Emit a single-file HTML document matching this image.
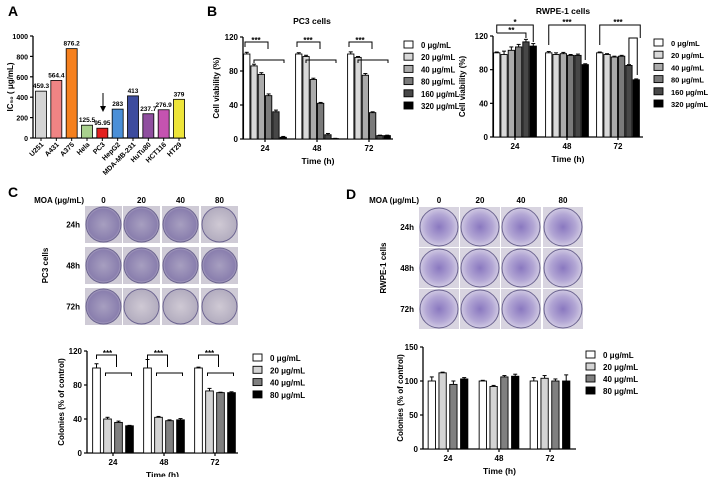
<!DOCTYPE html>
<html><head><meta charset="utf-8"><style>
body{margin:0;background:#fff}
svg{display:block;font-family:"Liberation Sans",Arial,sans-serif;font-weight:bold}
</style></head><body>
<svg id="fig" width="708" height="477" viewBox="0 0 708 477">
<defs>
<radialGradient id="pc3plate" cx="50%" cy="50%" r="55%"><stop offset="0" stop-color="#a79fc0"/><stop offset="0.8" stop-color="#8a7fae"/><stop offset="1" stop-color="#c8c3d2"/></radialGradient>
<radialGradient id="pc3light" cx="50%" cy="50%" r="55%"><stop offset="0" stop-color="#cfc9d4"/><stop offset="0.85" stop-color="#b4aec0"/><stop offset="1" stop-color="#d8d4dc"/></radialGradient>
<radialGradient id="rwplate" cx="50%" cy="50%" r="55%"><stop offset="0" stop-color="#8a78c0"/><stop offset="0.6" stop-color="#b2a6d4"/><stop offset="0.9" stop-color="#cfc8e2"/><stop offset="1" stop-color="#8f80bb"/></radialGradient>
</defs>
<g id="root"></g>
</svg>
<script>
// ---------- data ----------
const icCells = ["U251","A431","A375","Hela","PC3","HepG2","MDA-MB-231","HuTu80","HCT116","HT29"];
const icValues = [459.3,564.4,876.2,125.5,95.95,283,413,237.7,276.9,379];
const icLabels = ["459.3","564.4","876.2","125.5","95.95","283","413","237.7","276.9","379"];
const icColors = ["#d4d4d4","#f08484","#f5801e","#a9d18e","#e3201e","#4a8fd8","#3d4c9e","#8f4f9f","#c553b0","#eee53a"];
const icTicks = [0,200,400,600,800,1000];

const timeCats = ["24","48","72"];
const dose6 = ["0 μg/mL","20 μg/mL","40 μg/mL","80 μg/mL","160 μg/mL","320 μg/mL"];
const dose4 = ["0 μg/mL","20 μg/mL","40 μg/mL","80 μg/mL"];
const pc3Vals = [[100,86,76,51,32,2],[100,97,70,42,5,0.5],[100,96,75,31,4,4]];
const pc3Errs = [[2,2,2,2,2,1],[1.5,1.5,1.5,1,1.5,0.3],[2.5,1,2,1,0.5,0.5]];
const rwVals = [[100,98,103,107,113,108],[100,98,99,97,97,86],[100,98,95,96,85,68]];
const rwErrs = [[1,4,4,3,3,3],[1.5,2,1.5,1,1.5,1],[1,1,1,1,1,1]];
const viaTicks = [0,40,80,120];
const pcColVals = [[100,40,36,32],[100,42,38,39],[100,73,71,71]];
const pcColErrs = [[5,2,1.5,0.5],[10,1,1,1.5],[1,3,0.5,1]];
const colTicksC = [0,40,80,120];
const rwColVals = [[100,112,95,103],[100,92,106,107],[100,104,100,100]];
const rwColErrs = [[6,1,5,2],[1,1.5,2,3],[5,4,3,9]];
const colTicksD = [0,50,100,150];
const moaDoses = ["0","20","40","80"];
const hours = ["24h","48h","72h"];

const gray6 = ["#ffffff","#d9d9d9","#ababab","#7a7a7a","#474747","#000000"];
const gray4 = ["#ffffff","#d4d4d4","#808080","#000000"];

// ---------- helpers ----------
const NS="http://www.w3.org/2000/svg";
const root=document.getElementById('root');
function el(tag,attrs,parent,text){const e=document.createElementNS(NS,tag);for(const k in attrs)e.setAttribute(k,attrs[k]);if(text!==undefined)e.textContent=text;(parent||root).appendChild(e);return e;}
function line(x1,y1,x2,y2,p,w){return el('line',{x1,y1,x2,y2,stroke:'#000','stroke-width':w||1},p);}
function poly(pts,p){return el('polyline',{points:pts.map(a=>a.join(',')).join(' '),fill:'none',stroke:'#000','stroke-width':1},p);}

function groupChart(o){
  const g=el('g',{});
  
  
  const ys=v=>o.y0-(v/o.ymax)*(o.y0-o.y1);
  o.ys=ys;
  line(o.x0,o.y1,o.x0,o.y0,g,1.3);
  line(o.x0,o.y0,o.xEnd,o.y0,g,1.3);
  o.ticks.forEach(t=>{const y=ys(t);line(o.x0-3,y,o.x0,y,g,1.2);
    const tl=el('text',{x:o.x0-5,y:y+3,'font-size':8,'text-anchor':'end'},g,String(t));
    });
  const n=o.vals[0].length;
  o.cats.forEach((c,i)=>{
    const cx=o.cx[i];
    line(cx,o.y0,cx,o.y0+3,g,1.2);
    const xl=el('text',{x:cx,y:o.y0+12,'font-size':8,'text-anchor':'middle'},g,c);
    
    o.vals[i].forEach((v,j)=>{
      const bx=cx-(n*o.pitch)/2+j*o.pitch+(o.pitch-o.bw)/2;
      const e=o.errs[i][j];
      const bxc=bx+o.bw/2;
      line(bxc,ys(v),bxc,ys(v+e),g,1);
      line(bxc-2,ys(v+e),bxc+2,ys(v+e),g,1);
      const r=el('rect',{x:bx,y:ys(v),width:o.bw,height:o.y0-ys(v),fill:o.colors[j],stroke:'#000','stroke-width':0.9},g);
      
      
    });
  });
  const xt=el('text',{x:(o.x0+o.xEnd)/2,y:o.y0+25,'font-size':8.5,'text-anchor':'middle'},g,'Time (h)');
  
  const yt=el('text',{x:0,y:0,'font-size':8,'text-anchor':'middle',transform:`translate(${o.ylx},${(o.y0+o.y1)/2}) rotate(-90)`},g,o.ylabel);
  
  if(o.title){const tt=el('text',{x:o.tx,y:o.ty,'font-size':8.5,'text-anchor':'middle'},g,o.title);
    }
  o.legend.forEach((lab,j)=>{
    const y=o.ly+j*o.lstep;
    const lg=el('g',{},g);
    
    el('rect',{x:o.lx,y:y-4,width:9,height:7,fill:o.colors[j],stroke:'#000','stroke-width':0.9},lg);
    el('text',{x:o.lx+17,y:y+3,'font-size':o.lfs||8},lg,lab);
  });
  o.barX=(i,j)=>o.cx[i]-(n*o.pitch)/2+j*o.pitch+o.pitch/2;
  o.g=g;
  return o;
}
function stars(x,y,s,g){const t=el('text',{x,y,'font-size':8,'text-anchor':'middle'},g,s);}

// ---------- Panel letters ----------
[["A",8,16],["B",207,16],["C",8,197],["D",346,199]].forEach(a=>{const t=el('text',{x:a[1],y:a[2],'font-size':14},root,a[0]);});

// ---------- Panel A ----------
(function(){
  const g=el('g',{});
  
  
  const x0=33,y0=138,y1=36,ymax=1000,x1=186;
  const ys=v=>y0-(v/ymax)*(y0-y1);
  line(x0,y1,x0,y0,g,1.3);line(x0,y0,x1,y0,g,1.3);
  icTicks.forEach(t=>{line(x0-3,ys(t),x0,ys(t),g,1.2);el('text',{x:x0-5,y:ys(t)+3,'font-size':7,'text-anchor':'end'},g,String(t));});
  const step=(179-41)/(icCells.length-1);
  icCells.forEach((c,i)=>{
    const cx=41+i*step;
    const r=el('rect',{x:cx-5.5,y:ys(icValues[i]),width:11,height:y0-ys(icValues[i]),fill:icColors[i],stroke:'#000','stroke-width':0.8},g);
    
    
    el('text',{x:cx,y:ys(icValues[i])-3,'font-size':6.5,'text-anchor':'middle'},g,icLabels[i]);
    line(cx,y0,cx,y0+3,g,1);
    const tl=el('text',{x:0,y:0,'font-size':7,'text-anchor':'end',transform:`translate(${cx+3},${y0+7}) rotate(-45)`},g,c);
    
  });
  const yt=el('text',{x:0,y:0,'font-size':8,'text-anchor':'middle',transform:`translate(13,87) rotate(-90)`},g,'IC₅₀ ( μg/mL)');
  
  const ar=el('g',{},g);
  line(103,93,103,110,ar,1);
  el('polygon',{points:'100,106 106,106 103,112',fill:'#000'},ar);
})();

// ---------- Panel B PC3 ----------
const pc3=groupChart({name:'pc3-viability-chart',x0:243,xEnd:393,y0:139,y1:37,ymax:120,ticks:viaTicks,cats:timeCats,cx:[265,317,369],
  pitch:7.3,bw:6.3,vals:pc3Vals,errs:pc3Errs,colors:gray6,legend:dose6,lx:404,ly:45,lstep:12.2,lfs:7.8,ylx:219,ylabel:'Cell viability (%)',title:'PC3 cells',tx:312,ty:24});
[0,1,2].forEach(i=>{
  const g=pc3.g,off=pc3.cx[i]-265;
  poly([[245+off,47],[245+off,42],[268+off,42],[268+off,49]],g);
  poly([[254+off,63],[254+off,60],[284+off,60],[284+off,63]],g);
  stars(256+off,43,'***',g);
});

// ---------- Panel B RWPE ----------
const rw=groupChart({name:'rwpe-viability-chart',x0:493,xEnd:643,y0:137,y1:36,ymax:120,ticks:viaTicks,cats:timeCats,cx:[515,567,618],
  pitch:7.3,bw:6.3,vals:rwVals,errs:rwErrs,colors:gray6,legend:dose6,lx:654,ly:43,lstep:12.2,lfs:7.5,ylx:465,ylabel:'Cell viability (%)',title:'RWPE-1 cells',tx:563,ty:14});
(function(){const g=rw.g,bx=rw.barX;
  poly([[bx(0,0),33],[bx(0,0),25],[bx(0,5),25],[bx(0,5),42]],g);stars((bx(0,0)+bx(0,5))/2,25,'*',g);
  poly([[bx(0,0),33],[bx(0,4),33],[bx(0,4),38]],g);stars((bx(0,0)+bx(0,4))/2,33,'**',g);
  poly([[bx(1,0),45],[bx(1,0),25],[bx(1,5),25],[bx(1,5),60]],g);stars((bx(1,0)+bx(1,5))/2,25,'***',g);
  poly([[bx(2,0),45],[bx(2,0),25],[bx(2,5)+4,25],[bx(2,5)+4,38]],g);stars((bx(2,0)+bx(2,5))/2,25,'***',g);
  poly([[bx(2,4),64],[bx(2,4),38],[bx(2,5)+1,38],[bx(2,5)+1,75]],g);
})();

// ---------- Photo grids ----------
function plates(o){
  const g=el('g',{});
  
  
  el('text',{x:o.hx,y:o.hy,'font-size':8,'text-anchor':'end'},g,'MOA (μg/mL)');
  moaDoses.forEach((d,c)=>el('text',{x:o.cols[c]+o.w/2,y:o.hy,'font-size':8,'text-anchor':'middle'},g,d));
  hours.forEach((h,r)=>{
    el('text',{x:o.cols[0]-5,y:o.rows[r]+o.w/2+3,'font-size':8,'text-anchor':'end'},g,h);
    moaDoses.forEach((d,c)=>{
      const cell=el('g',{},g);
      
      
      el('rect',{x:o.cols[c],y:o.rows[r],width:o.w,height:o.w,fill:o.bg},cell);
      el('circle',{cx:o.cols[c]+o.w/2,cy:o.rows[r]+o.w/2,r:o.w/2-1,fill:o.fill(r,c),stroke:'#6c6490','stroke-width':1},cell);
    });
  });
  el('text',{x:0,y:0,'font-size':8,'text-anchor':'middle',transform:`translate(${o.lx},${o.rows[1]+o.w/2}) rotate(-90)`},g,o.label);
}
plates({name:'pc3-colony-plates',hx:84,hy:203,cols:[85,123,162,201],rows:[206,247,288],w:37,bg:'#cfcbd6',label:'PC3 cells',lx:48,
  fill:(r,c)=>((r==2&&c>=1)||(r==0&&c==3))?'url(#pc3light)':'url(#pc3plate)'});
plates({name:'rwpe-colony-plates',hx:419,hy:203,cols:[419,460,501,543],rows:[207,248,289],w:40,bg:'#d8d4e0',label:'RWPE-1 cells',lx:386,
  fill:()=> 'url(#rwplate)'});

// ---------- Panel C colonies ----------
const cc=groupChart({name:'pc3-colonies-chart',x0:87,xEnd:238,y0:453,y1:351,ymax:120,ticks:colTicksC,cats:timeCats,cx:[113,164,215],
  pitch:11,bw:7.7,vals:pcColVals,errs:pcColErrs,colors:gray4,legend:dose4,lx:253,ly:358,lstep:12.3,ylx:64,ylabel:'Colonies (% of control)'});
[0,1,2].forEach(i=>{const g=cc.g,bx=cc.barX;
  poly([[bx(i,0),359],[bx(i,0),355],[bx(i,2)-2,355],[bx(i,2)-2,367]],g);
  poly([[bx(i,1)-2,376],[bx(i,1)-2,373],[bx(i,3)+2,373],[bx(i,3)+2,376]],g);
  stars(bx(i,0)+11,356,'***',g);
});

// ---------- Panel D colonies ----------
groupChart({name:'rwpe-colonies-chart',x0:423,xEnd:576,y0:449,y1:347,ymax:150,ticks:colTicksD,cats:timeCats,cx:[448,499,550],
  pitch:10.8,bw:7.3,vals:rwColVals,errs:rwColErrs,colors:gray4,legend:dose4,lx:586,ly:355,lstep:12,ylx:403,ylabel:'Colonies (% of control)'});
</script>
</body></html>
